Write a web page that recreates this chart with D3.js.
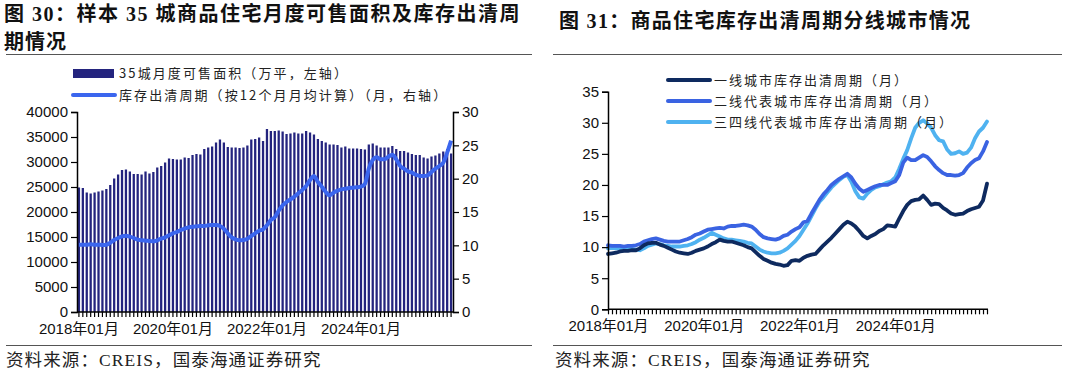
<!DOCTYPE html>
<html><head><meta charset="utf-8">
<script src="https://cdn.jsdelivr.net/npm/d3@7"></script>
<style>
body{margin:0;background:#fff;}
svg{display:block;}
.tick text{font-family:"Liberation Sans",Arial,"Noto Sans CJK SC",sans-serif;}
</style></head>
<body><svg id="c" width="1080" height="370"></svg>
<script>
// ---------- DATA ----------
const startMonth = new Date(2018, 0, 1);
const nMonths = 96;
const months = d3.timeMonth.range(startMonth, d3.timeMonth.offset(startMonth, nMonths));
const xTickLabels = ["2018年01月", "2020年01月", "2022年01月", "2024年01月"];
const xTickMonths = ["2018-01", "2020-01", "2022-01", "2024-01"];

// Fig 30: 35-city monthly available area (10k sqm, left axis)
const availableArea = [
 24900,24800,23900,23700,23900,24100,24300,24600,25400,26700,27500,28400,
 28500,28100,27600,27600,27500,28100,27700,28000,28900,29200,29900,30700,
 30600,30500,30500,30900,30800,31400,31600,31500,32600,32900,33100,33900,
 34500,33900,33000,32900,32900,32800,32900,33300,34500,34600,34900,34200,
 36600,36200,36200,36300,36100,35600,35700,35900,35700,35700,36200,35900,
 35500,34600,34200,33900,33500,33500,33400,32900,33100,32700,32700,32700,
 32600,32500,33500,33700,33300,32900,32900,32900,33200,32600,32200,32200,
 31900,31600,31400,31400,30900,30700,31100,31300,31700,32100,32600,31700
];
// Fig 30: destocking cycle (months, right axis)
const clearCycle = [
 10.1,10.1,10.1,10.15,10.1,10.1,10.05,10.1,10.4,10.8,11.1,11.35,
 11.45,11.3,11.1,10.85,10.75,10.7,10.65,10.6,10.75,11.0,11.2,11.5,
 11.8,12.0,12.3,12.5,12.7,12.8,12.85,12.9,12.9,13.0,13.05,13.05,
 12.9,12.5,11.8,11.2,10.9,10.75,10.8,11.0,11.4,11.8,12.2,12.4,
 13.0,13.8,14.2,15.2,16.0,16.5,16.9,17.3,17.8,18.3,18.9,19.8,
 20.4,19.5,18.8,18.0,17.5,17.9,18.2,18.4,18.5,18.6,18.65,18.7,
 18.8,19.2,21.5,22.8,23.2,22.9,22.9,23.3,23.6,22.9,21.9,21.5,
 21.1,20.9,20.6,20.4,20.4,20.5,21.0,21.5,21.9,22.4,23.9,25.7
];
// Fig 31: destocking cycle by city tier (months)
const tier1 = [
 8.9,9.0,9.1,9.3,9.4,9.4,9.5,9.5,9.8,10.3,10.6,10.7,
 10.7,10.4,10.2,9.9,9.6,9.3,9.1,9.0,8.9,9.1,9.4,9.6,
 9.8,10.1,10.5,10.8,11.2,11.0,10.9,10.9,10.7,10.5,10.3,10.0,
 9.8,9.2,8.6,8.1,7.8,7.5,7.3,7.2,7.0,7.1,7.8,7.9,
 7.8,8.3,8.6,8.8,8.9,9.6,10.3,10.9,11.5,12.2,12.9,13.6,
 14.1,13.8,13.3,12.6,11.8,11.4,11.8,12.1,12.6,12.9,13.5,13.4,
 13.3,14.6,15.8,16.8,17.4,17.6,17.7,18.3,17.6,16.8,17.0,16.9,
 16.3,15.9,15.4,15.2,15.3,15.4,15.8,16.1,16.3,16.5,17.5,20.2
];
const tier2 = [
 10.3,10.2,10.2,10.2,10.1,10.2,10.2,10.3,10.5,10.9,11.1,11.3,
 11.4,11.2,11.0,10.9,10.9,10.9,10.9,11.1,11.3,11.6,12.0,12.2,
 12.5,12.8,12.9,13.0,13.1,13.0,13.3,13.4,13.4,13.5,13.6,13.5,
 13.3,12.8,12.1,11.6,11.4,11.3,11.2,11.4,11.8,12.0,12.5,12.9,
 13.2,14.0,14.2,15.4,16.5,17.6,18.5,19.2,20.0,20.5,21.0,21.4,
 21.8,21.2,20.2,19.4,18.9,19.2,19.5,19.8,20.0,20.0,20.0,20.3,
 20.6,21.6,23.6,24.4,24.0,24.0,24.4,24.8,24.5,23.8,23.0,22.4,
 21.9,21.6,21.6,21.5,21.6,21.9,22.8,23.5,24.0,24.3,25.4,26.9
];
const tier34 = [
 9.8,9.9,9.8,9.8,9.8,9.8,9.7,9.6,9.5,9.8,10.2,10.4,
 10.6,10.5,10.3,10.2,10.1,10.1,10.1,10.2,10.3,10.5,10.8,11.2,
 11.5,11.9,12.3,12.0,11.7,11.4,11.2,11.2,11.1,11.0,10.9,10.7,
 10.6,10.1,9.6,9.3,9.1,9.0,9.0,9.1,9.4,9.8,10.4,11.0,
 11.8,12.8,13.8,15.0,16.2,17.3,18.0,18.8,19.6,20.2,20.8,21.3,
 21.6,20.5,19.0,18.0,17.8,18.6,19.2,19.6,19.8,20.1,20.4,20.6,
 21.2,22.6,24.2,25.6,27.5,29.2,30.0,30.4,29.9,29.2,28.0,27.2,
 27.0,25.7,25.0,25.1,25.4,25.0,25.2,26.0,27.5,28.6,29.2,30.2
];
const leftYTicks = [0,5000,10000,15000,20000,25000,30000,35000,40000];
const rightYTicks = [0,5,10,15,20,25,30];
const fig31YTicks = [0,5,10,15,20,25,30,35];

const fig30Title = ["图 30：样本 35 城商品住宅月度可售面积及库存出清周", "期情况"];
const fig31Title = "图 31：商品住宅库存出清周期分线城市情况";
const fig30Legend = ["35城月度可售面积（万平，左轴）", "库存出清周期（按12个月月均计算）（月，右轴）"];
const fig31Legend = ["一线城市库存出清周期（月）", "二线代表城市库存出清周期（月）", "三四线代表城市库存出清周期（月）"];
const sourceText = "资料来源：CREIS，国泰海通证券研究";

// ---------- STYLE ----------
const barColor = "#24247e";
const cycleColor = "#3b66ee";
const tierColors = ["#0e2a5f", "#3a63e2", "#4fb2f0"];
const titleFont = '"Liberation Serif","Noto Sans CJK SC",serif';
const cjkFont = '"Noto Sans CJK SC","Liberation Sans",sans-serif';

const svg = d3.select("#c");
const fmtKey = d3.timeFormat("%Y-%m");
const keys = months.map(fmtKey);

// ---------- Titles / separators / sources ----------
svg.append("text").attr("x", 4).attr("y", 21).attr("font-family", titleFont).attr("font-weight", "bold")
  .attr("font-size", 20).attr("fill", "#111").attr("letter-spacing", 1.5).text(fig30Title[0]);
svg.append("text").attr("x", 4).attr("y", 49).attr("font-family", titleFont).attr("font-weight", "bold")
  .attr("font-size", 20).attr("fill", "#111").attr("letter-spacing", 1).text(fig30Title[1]);
svg.append("text").attr("x", 559).attr("y", 28).attr("font-family", titleFont).attr("font-weight", "bold")
  .attr("font-size", 20).attr("fill", "#111").attr("letter-spacing", 1.3).text(fig31Title);

[[6, 532, 54.5], [553, 1062, 54.5], [6, 532, 345.5], [553, 1062, 345.5]].forEach(([x1, x2, y]) => {
  svg.append("line").attr("x1", x1).attr("x2", x2).attr("y1", y).attr("y2", y)
    .attr("stroke", "#555").attr("stroke-width", 1.2);
});
[6, 555].forEach(x => {
  svg.append("text").attr("x", x).attr("y", 366).attr("font-family", titleFont)
    .attr("font-size", 17.5).attr("letter-spacing", 1.1).attr("fill", "#222").text(sourceText);
});

// ---------- Fig 30 ----------
const L = {left: 77, right: 453, top: 112, bottom: 312};
const xb = d3.scaleBand().domain(keys).range([L.left, L.right]).paddingInner(0.42).paddingOuter(0.2);
const yL = d3.scaleLinear().domain([0, 40000]).range([L.bottom, L.top]);
const yR = d3.scaleLinear().domain([0, 30]).range([L.bottom, L.top]);

const g30 = svg.append("g");
g30.selectAll("rect.bar").data(availableArea).join("rect").attr("class", "bar")
  .attr("x", (d, i) => xb(keys[i])).attr("width", xb.bandwidth())
  .attr("y", d => yL(d)).attr("height", d => yL(0) - yL(d)).attr("fill", barColor);

g30.append("path").datum(clearCycle)
  .attr("d", d3.line().x((d, i) => xb(keys[i]) + xb.bandwidth() / 2).y(d => yR(d)).curve(d3.curveMonotoneX))
  .attr("fill", "none").attr("stroke", cycleColor).attr("stroke-width", 4).attr("stroke-linejoin", "round");

function styleAxis(g) {
  g.select(".domain").attr("stroke", "#000").attr("stroke-width", 1.5);
  g.selectAll(".tick line").attr("stroke", "#000").attr("stroke-width", 1.2);
  g.selectAll(".tick text").attr("fill", "#111").attr("font-size", 15);
}

const axL = g30.append("g").attr("transform", `translate(${L.left},0)`)
  .call(d3.axisLeft(yL).tickValues(leftYTicks).tickSize(6).tickPadding(3).tickFormat(d3.format("d")));
styleAxis(axL);
const axR = g30.append("g").attr("transform", `translate(${L.right},0)`)
  .call(d3.axisRight(yR).tickValues(rightYTicks).tickSize(6).tickPadding(3));
styleAxis(axR);
const axB = g30.append("g").attr("transform", `translate(0,${L.bottom})`)
  .call(d3.axisBottom(xb).tickSize(5).tickPadding(6)
    .tickFormat(k => { const j = xTickMonths.indexOf(k); return j >= 0 ? xTickLabels[j] : ""; }));
styleAxis(axB);
axB.select(".domain").attr("d", `M${L.left},0H${L.right}`);

// legend fig30
const lg30 = svg.append("g");
lg30.append("rect").attr("x", 73).attr("y", 69).attr("width", 41).attr("height", 9).attr("fill", barColor);
lg30.append("line").attr("x1", 73).attr("x2", 115).attr("y1", 95).attr("y2", 95)
  .attr("stroke", cycleColor).attr("stroke-width", 4).attr("stroke-linecap", "round");
fig30Legend.forEach((t, i) => {
  lg30.append("text").attr("x", 119).attr("y", 78 + i * 22).attr("font-family", cjkFont)
    .attr("font-size", 13).attr("letter-spacing", 2.1).attr("fill", "#222").text(t);
});

// ---------- Fig 31 ----------
const R = {left: 608, right: 988, top: 91.7, bottom: 309.3};
const xp = d3.scalePoint().domain(keys).range([R.left, R.right - 1]);
const y31 = d3.scaleLinear().domain([0, 35]).range([R.bottom, R.top]);
const g31 = svg.append("g");
[tier34, tier2, tier1].forEach((s, k) => {
  const si = 2 - k;
  g31.append("path").datum(s)
    .attr("d", d3.line().x((d, i) => xp(keys[i])).y(d => y31(d)))
    .attr("fill", "none").attr("stroke", tierColors[si]).attr("stroke-width", 3.8)
    .attr("stroke-linejoin", "round").attr("stroke-linecap", "round");
});
const ax31L = g31.append("g").attr("transform", `translate(${R.left},0)`)
  .call(d3.axisLeft(y31).tickValues(fig31YTicks).tickSize(6).tickPadding(3));
styleAxis(ax31L);
const ax31B = g31.append("g").attr("transform", `translate(0,${R.bottom})`)
  .call(d3.axisBottom(xp).tickSize(5).tickPadding(6)
    .tickFormat(k => { const j = xTickMonths.indexOf(k); return j >= 0 ? xTickLabels[j] : ""; }));
styleAxis(ax31B);
ax31B.select(".domain").attr("d", `M${R.left},0H${R.right}`);

const lg31 = svg.append("g");
fig31Legend.forEach((t, i) => {
  const y = 80 + i * 21;
  lg31.append("line").attr("x1", 668).attr("x2", 710).attr("y1", y).attr("y2", y)
    .attr("stroke", tierColors[i]).attr("stroke-width", 4).attr("stroke-linecap", "round");
  lg31.append("text").attr("x", 714).attr("y", y + 5).attr("font-family", cjkFont)
    .attr("font-size", 13).attr("letter-spacing", 2).attr("fill", "#222").text(t);
});
</script></body></html>
